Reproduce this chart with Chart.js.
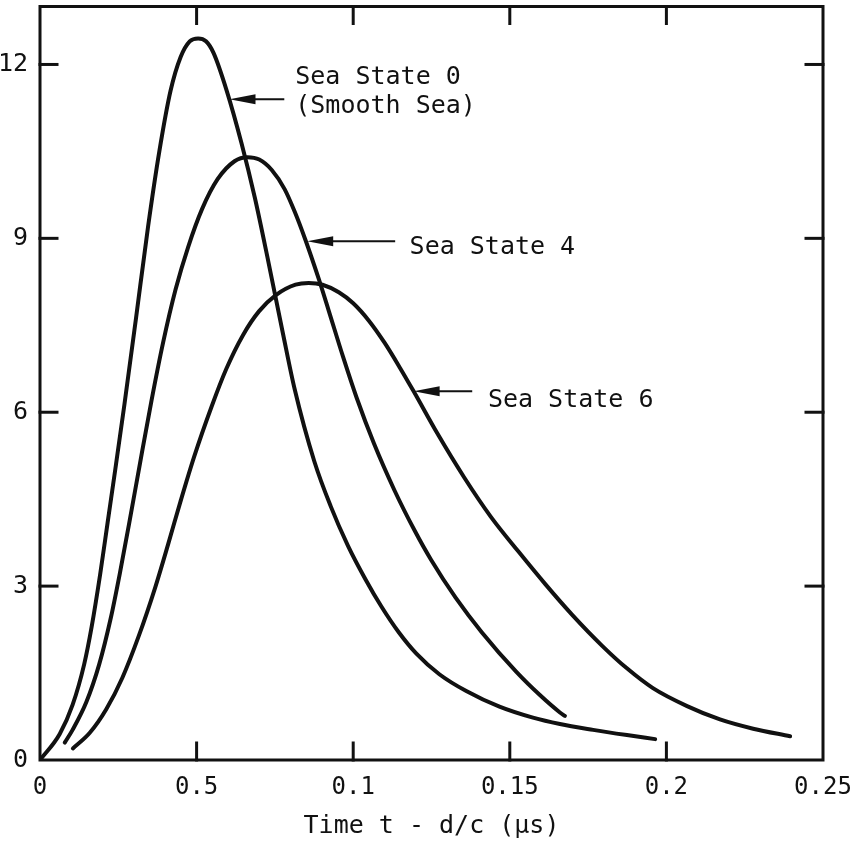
<!DOCTYPE html>
<html>
<head>
<meta charset="utf-8">
<script src="https://cdn.jsdelivr.net/npm/chart.js@4.4.0/dist/chart.umd.min.js"></script>
<style>
  html, body { margin: 0; padding: 0; background: #fff; }
  #wrap { width: 857px; height: 845px; }
</style>
</head>
<body>
<div id="wrap"><canvas id="seaChart" width="857" height="845"></canvas></div>
<script>
// axis ticks
const xTicks = [0, 0.05, 0.1, 0.15, 0.2, 0.25];
const xTickLabels = ['0', '0.5', '0.1', '0.15', '0.2', '0.25'];
const yTicks = [0, 3, 6, 9, 12];
const yTickLabels = ['0', '3', '6', '9', '12'];

// Sea State 0 (Smooth Sea)
const ss0T = [0, 0.0063, 0.0104, 0.0141, 0.0165, 0.0192, 0.0216, 0.0240, 0.0270, 0.0306, 0.0345, 0.0381, 0.0417, 0.0449, 0.0478, 0.0505, 0.0530, 0.0554, 0.0596, 0.0643, 0.0686, 0.0729, 0.0776, 0.0813, 0.0876, 0.0928, 0.0983, 0.1039, 0.1091, 0.1146, 0.1201, 0.1275, 0.1361, 0.1467, 0.1574, 0.1660, 0.1766, 0.1874, 0.1964];
const ss0V = [0, 0.45, 0.95, 1.65, 2.3, 3.2, 4.1, 5.0, 6.15, 7.6, 9.2, 10.5, 11.55, 12.13, 12.4, 12.45, 12.4, 12.2, 11.55, 10.65, 9.7, 8.6, 7.35, 6.4, 5.15, 4.38, 3.7, 3.12, 2.64, 2.2, 1.84, 1.48, 1.19, 0.92, 0.73, 0.62, 0.52, 0.43, 0.36];

// Sea State 4
const ss4T = [0.0079, 0.0104, 0.0148, 0.0189, 0.0226, 0.0256, 0.0287, 0.0317, 0.0356, 0.0393, 0.0433, 0.0473, 0.0517, 0.0567, 0.0621, 0.0662, 0.0700, 0.0740, 0.0781, 0.0814, 0.0847, 0.0890, 0.0922, 0.0968, 0.1011, 0.1067, 0.1132, 0.1197, 0.1249, 0.1327, 0.1411, 0.1521, 0.1596, 0.1660, 0.1676];
const ss4V = [0.3, 0.52, 1.0, 1.65, 2.45, 3.25, 4.15, 5.05, 6.2, 7.2, 8.12, 8.85, 9.5, 10.02, 10.33, 10.4, 10.36, 10.18, 9.85, 9.45, 8.98, 8.3, 7.75, 6.95, 6.25, 5.45, 4.65, 3.95, 3.45, 2.8, 2.2, 1.52, 1.12, 0.82, 0.76];

// Sea State 6
const ss6T = [0.0105, 0.0159, 0.0212, 0.0263, 0.0316, 0.0368, 0.0409, 0.0448, 0.0492, 0.0548, 0.0595, 0.0648, 0.0699, 0.0753, 0.0816, 0.0858, 0.0902, 0.0954, 0.1000, 0.1050, 0.1100, 0.1150, 0.1193, 0.1268, 0.1355, 0.1439, 0.1527, 0.1614, 0.1700, 0.1795, 0.1872, 0.1957, 0.2066, 0.2171, 0.2277, 0.2395];
const ss6V = [0.2, 0.47, 0.88, 1.42, 2.15, 2.98, 3.72, 4.45, 5.23, 6.1, 6.75, 7.33, 7.74, 8.02, 8.2, 8.23, 8.2, 8.07, 7.88, 7.58, 7.2, 6.76, 6.36, 5.64, 4.87, 4.2, 3.6, 3.03, 2.5, 1.97, 1.59, 1.24, 0.93, 0.7, 0.54, 0.41];

// curve labels with arrows (data coordinates)
const labelLines = [['Sea State 0', '(Smooth Sea)'], ['Sea State 4'], ['Sea State 6']];
const labelX = [0.0815, 0.118, 0.143];
const labelY = [[11.78, 11.27], [8.85], [6.2]];
const arrowTipX = [0.0605, 0.0853, 0.1193];
const arrowTipY = [11.4, 8.95, 6.36];
const arrowTailX = [0.078, 0.1134, 0.138];

const INK = '#111';
const FONT = "'DejaVu Sans Mono', 'Liberation Mono', monospace";

const toPoints = (ts, vs) => ts.map((t, i) => ({ x: t, y: vs[i] }));

function curve(label, ts, vs) {
    return {
        label: label,
        data: toPoints(ts, vs),
        borderColor: INK,
        borderWidth: 4,
        pointRadius: 0,
        fill: false,
        cubicInterpolationMode: 'monotone',
        borderCapStyle: 'round',
        borderJoinStyle: 'round'
    };
}

// frame, inward ticks and arrow labels
const frameAndLabels = {
    id: 'frameAndLabels',
    afterDraw(chart) {
        const { ctx, chartArea: a, scales: { x, y } } = chart;
        ctx.save();
        ctx.strokeStyle = INK;
        ctx.lineCap = 'square';
        ctx.lineWidth = 3;
        ctx.strokeRect(a.left, a.top, a.right - a.left, a.bottom - a.top);

        const len = 17;
        const seg = (x1, y1, x2, y2) => { ctx.beginPath(); ctx.moveTo(x1, y1); ctx.lineTo(x2, y2); ctx.stroke(); };
        xTicks.slice(1, -1).forEach(v => {
            const px = x.getPixelForValue(v);
            seg(px, a.bottom, px, a.bottom - len);
            seg(px, a.top, px, a.top + len);
        });
        yTicks.slice(1).forEach(v => {
            const py = y.getPixelForValue(v);
            seg(a.left, py, a.left + len, py);
            seg(a.right, py, a.right - len, py);
        });

        // arrows
        ctx.lineCap = 'butt';
        ctx.lineWidth = 2;
        ctx.fillStyle = INK;
        arrowTipX.forEach((tx, i) => {
            const px = x.getPixelForValue(tx);
            const py = y.getPixelForValue(arrowTipY[i]);
            const tail = x.getPixelForValue(arrowTailX[i]);
            seg(px + 10, py, tail, py);
            ctx.beginPath();
            ctx.moveTo(px, py);
            ctx.lineTo(px + 26, py - 5);
            ctx.lineTo(px + 26, py + 5);
            ctx.closePath();
            ctx.fill();
        });

        // label text
        ctx.font = '25px ' + FONT;
        ctx.textBaseline = 'middle';
        ctx.textAlign = 'left';
        labelLines.forEach((lines, i) => {
            const px = x.getPixelForValue(labelX[i]);
            lines.forEach((t, j) => ctx.fillText(t, px, y.getPixelForValue(labelY[i][j])));
        });
        ctx.restore();
    }
};

new Chart(document.getElementById('seaChart'), {
    type: 'line',
    data: {
        datasets: [
            curve('Sea State 0', ss0T, ss0V),
            curve('Sea State 4', ss4T, ss4V),
            curve('Sea State 6', ss6T, ss6V)
        ]
    },
    options: {
        responsive: false,
        animation: false,
        layout: { padding: { top: 6.5, right: 34, left: 0, bottom: 0 } },
        plugins: { legend: { display: false }, tooltip: { enabled: false } },
        scales: {
            x: {
                type: 'linear',
                min: 0,
                max: 0.25,
                grid: { display: false },
                border: { display: false },
                afterBuildTicks: s => { s.ticks = xTicks.map(v => ({ value: v })); },
                afterFit: s => { s.height = 85; s.paddingLeft = 0; s.paddingRight = 0; },
                ticks: {
                    autoSkip: false,
                    maxRotation: 0,
                    padding: 5,
                    color: INK,
                    font: { family: FONT, size: 24 },
                    callback: (v, i) => xTickLabels[i]
                },
                title: {
                    display: true,
                    text: 'Time t - d/c (\u03bcs)',
                    color: INK,
                    font: { family: FONT, size: 25 },
                    padding: { top: 0, bottom: 4 }
                }
            },
            y: {
                type: 'linear',
                min: 0,
                max: 13,
                grid: { display: false },
                border: { display: false },
                afterBuildTicks: s => { s.ticks = yTicks.map(v => ({ value: v })); },
                afterFit: s => { s.width = 40; s.paddingTop = 0; s.paddingBottom = 0; },
                ticks: {
                    padding: 4,
                    color: INK,
                    font: { family: FONT, size: 25 },
                    callback: (v, i) => yTickLabels[i]
                }
            }
        }
    },
    plugins: [frameAndLabels]
});
</script>
</body>
</html>
